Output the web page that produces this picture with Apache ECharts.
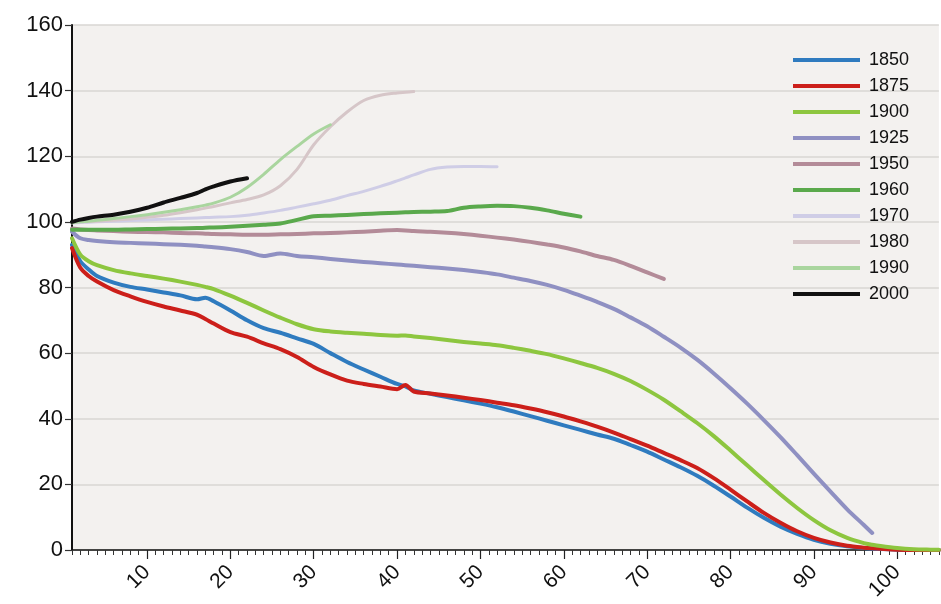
<!DOCTYPE html>
<html>
<head>
<meta charset="utf-8">
<script src="https://cdn.jsdelivr.net/npm/echarts@6/dist/echarts.min.js"></script>
<style>
  html, body { margin: 0; padding: 0; background: #ffffff; }
  #chart { width: 941px; height: 604px; }
</style>
</head>
<body>
<div id="chart"></div>
<script>
// Age (years) at which each cohort's value is sampled
const ages = [1, 2, 3, 4, 6, 8, 10, 12, 14, 16, 17, 18, 20, 22, 24, 26, 28, 30, 32, 34, 36, 38, 40, 41, 42,
  44, 46, 48, 50, 52, 54, 56, 58, 60, 62, 64, 66, 68, 70, 72, 74, 76, 78, 80, 82, 84, 86, 88, 90, 92, 94,
  96, 97, 98, 100, 102, 104, 105];

// Cohort values by age (shorter cohorts stop where their data ends)
const v1850 = [93, 88, 85.5, 83.5, 81.5, 80.2, 79.4, 78.5, 77.6, 76.4, 76.9, 75.8, 73, 70, 67.6, 66.2, 64.5,
  62.8, 60, 57.3, 55, 52.8, 50.6, 49.9, 48.6, 47.6, 46.6, 45.6, 44.6, 43.5, 42.2, 40.8, 39.4, 38, 36.6, 35.2,
  33.9, 32, 30, 27.6, 25.2, 22.6, 19.6, 16.3, 12.9, 9.8, 7.1, 4.9, 3.1, 1.9, 1.1, 0.6, 0.4, 0.3, 0.1, 0, 0, 0];
const v1875 = [92, 86, 83.5, 81.8, 79.2, 77.3, 75.6, 74.2, 73, 71.7, 70.4, 69, 66.4, 65, 63, 61.2, 58.8, 55.8,
  53.5, 51.6, 50.6, 49.8, 49, 50.3, 48.3, 47.7, 47.1, 46.4, 45.7, 44.9, 44.1, 43.1, 42, 40.7, 39.2, 37.6, 35.8,
  33.8, 31.8, 29.6, 27.4, 25, 21.9, 18.4, 14.8, 11.3, 8.3, 5.7, 3.7, 2.3, 1.3, 0.7, 0.5, 0.35, 0.1, 0, 0, 0];
const v1900 = [95, 90, 88, 86.8, 85.3, 84.3, 83.5, 82.7, 81.8, 80.8, 80.2, 79.5, 77.5, 75.3, 73, 70.8, 68.8,
  67.3, 66.6, 66.2, 65.9, 65.5, 65.3, 65.4, 65.1, 64.6, 64, 63.4, 62.9, 62.4, 61.6, 60.7, 59.7, 58.4, 57, 55.5,
  53.7, 51.5, 48.8, 45.8, 42.3, 38.7, 34.7, 30.3, 25.8, 21.3, 16.9, 12.8, 9.1, 6, 3.7, 2.1, 1.6, 1.2, 0.6,
  0.25, 0.1, 0.05];
const v1925 = [97, 95, 94.5, 94.2, 93.8, 93.6, 93.4, 93.2, 93, 92.7, 92.5, 92.3, 91.7, 90.8, 89.6, 90.4, 89.6,
  89.2, 88.7, 88.2, 87.8, 87.4, 87, 86.8, 86.6, 86.2, 85.8, 85.3, 84.7, 84, 83, 82, 80.8, 79.3, 77.5, 75.6,
  73.5, 70.9, 68.2, 65, 61.7, 58, 53.8, 49.3, 44.6, 39.6, 34.4, 28.9, 23.3, 17.8, 12.4, 7.6, 5.2];
const v1950 = [98, 97.7, 97.5, 97.4, 97.2, 97, 96.9, 96.8, 96.6, 96.5, 96.4, 96.3, 96.2, 96.1, 96.1, 96.2,
  96.3, 96.5, 96.6, 96.8, 97, 97.3, 97.5, 97.4, 97.2, 97, 96.7, 96.3, 95.8, 95.2, 94.6, 93.9, 93.1, 92.2, 91,
  89.6, 88.4, 86.6, 84.6, 82.6];
const v1960 = [97.6, 97.6, 97.6, 97.6, 97.6, 97.7, 97.8, 97.9, 98, 98.1, 98.2, 98.3, 98.5, 98.8, 99.1, 99.5,
  100.6, 101.7, 101.9, 102.1, 102.4, 102.6, 102.8, 102.9, 103, 103.1, 103.3, 104.3, 104.7, 104.9, 104.8,
  104.3, 103.5, 102.5, 101.6];
const v1970 = [99.7, 99.8, 99.9, 100, 100.2, 100.4, 100.6, 100.8, 101, 101.2, 101.3, 101.4, 101.6, 102, 102.7,
  103.5, 104.5, 105.5, 106.6, 108, 109.3, 110.8, 112.5, 113.4, 114.3, 116, 116.7, 116.9, 116.9, 116.8];
const v1980 = [99.7, 100, 100.1, 100.2, 100.5, 100.9, 101.4, 102, 102.8, 103.7, 104.2, 104.7, 105.8, 106.8,
  108.2, 111, 116, 123.5, 129, 133.5, 137, 138.6, 139.3, 139.5, 139.7];
const v1990 = [99.7, 100, 100.2, 100.5, 101, 101.6, 102.2, 102.9, 103.7, 104.6, 105.1, 105.7, 107.5, 110.5,
  114.5, 119, 123, 126.8, 129.6];
const v2000 = [100, 100.7, 101.2, 101.6, 102.2, 103.1, 104.3, 105.9, 107.3, 108.8, 109.9, 110.8, 112.3, 113.3];

const cohortNames = ['1850', '1875', '1900', '1925', '1950', '1960', '1970', '1980', '1990', '2000'];
const cohortValues = [v1850, v1875, v1900, v1925, v1950, v1960, v1970, v1980, v1990, v2000];
const cohortColors = ['#2f7bbf', '#cc1f1a', '#8dc63f', '#8f90c2', '#b38b98', '#5aa94c', '#cfcde6',
  '#d6c6c8', '#a9d59e', '#111111'];
const cohortWidths = [4, 4, 4, 4, 4, 4, 3, 3, 3, 4];

const yTickValues = [0, 20, 40, 60, 80, 100, 120, 140, 160];
const xLabelValues = [10, 20, 30, 40, 50, 60, 70, 80, 90, 100];

const FONT = '"Liberation Sans", Arial, Helvetica, sans-serif';

const series = cohortNames.map((name, k) => ({
  name: name,
  type: 'line',
  xAxisIndex: 0,
  data: cohortValues[k].map((v, i) => [ages[i], v]),
  smooth: 0.3,
  showSymbol: false,
  symbol: 'none',
  color: cohortColors[k],
  lineStyle: { color: cohortColors[k], width: cohortWidths[k], cap: 'round', join: 'round' },
  emphasis: { disabled: true },
  z: 2 + k
}));

const chart = echarts.init(document.getElementById('chart'), null, { renderer: 'canvas' });
chart.setOption({
  animation: false,
  backgroundColor: '#ffffff',
  grid: {
    left: 72, right: 2, top: 25, bottom: 54,
    show: true, backgroundColor: '#f3f1ef', borderWidth: 0
  },
  legend: {
    data: cohortNames,
    orient: 'vertical',
    left: 793,
    top: 51,
    padding: 0,
    icon: 'rect',
    itemWidth: 67,
    itemHeight: 4,
    itemGap: 8,
    textStyle: { fontFamily: FONT, fontSize: 18, color: '#111', padding: [0, 0, 0, 4] },
    selectedMode: false
  },
  xAxis: [
    {
      type: 'value',
      min: 1, max: 105, interval: 1,
      position: 'bottom',
      axisLine: { show: true, onZero: false, lineStyle: { color: '#111', width: 1.5 } },
      axisTick: { show: true, length: 5, lineStyle: { color: '#333', width: 1 } },
      axisLabel: {
        show: true,
        rotate: 45,
        margin: 19,
        fontFamily: FONT, fontSize: 21, color: '#111',
        formatter: v => (xLabelValues.indexOf(v) >= 0 ? String(v) : '')
      },
      splitLine: { show: false }
    },
    {
      type: 'value',
      min: 1, max: 105,
      position: 'bottom',
      axisLine: { show: false },
      axisTick: { show: true, length: 9, customValues: xLabelValues, lineStyle: { color: '#222', width: 1.2 } },
      axisLabel: { show: false },
      splitLine: { show: false }
    }
  ],
  yAxis: {
    type: 'value',
    min: 0, max: 160, interval: 20,
    axisLine: { show: true, lineStyle: { color: '#111', width: 2 } },
    axisTick: { show: true, length: 7, lineStyle: { color: '#333', width: 1.2 } },
    axisLabel: {
      margin: 9, fontFamily: FONT, fontSize: 22, color: '#111',
      formatter: v => (yTickValues.indexOf(v) >= 0 ? String(v) : '')
    },
    splitLine: { show: true, lineStyle: { color: '#d9d6d3', width: 1.5 } }
  },
  series: series
});
</script>
</body>
</html>
